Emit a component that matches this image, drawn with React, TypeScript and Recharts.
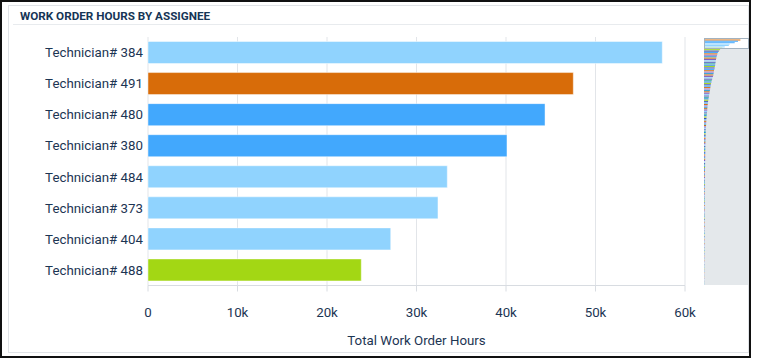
import { BarChart, Bar, XAxis, YAxis, CartesianGrid, Cell, Label } from "recharts";

// top 8 assignees shown in the main chart
const technicians = [
  "Technician# 384",
  "Technician# 491",
  "Technician# 480",
  "Technician# 380",
  "Technician# 484",
  "Technician# 373",
  "Technician# 404",
  "Technician# 488",
];
const hours = [57460, 47520, 44360, 40110, 33440, 32400, 27120, 23830];
const barColors = ["#90d3fe", "#d86c09", "#42a8fd", "#42a8fd", "#90d3fe", "#90d3fe", "#90d3fe", "#a3d714"];
const xTicks = [0, 10000, 20000, 30000, 40000, 50000, 60000];

// the rest of the assignees, only visible in the overview strip
const otherHours = [
  21000, 19300, 18200, 17400, 17000, 16500, 16000, 15700,
  15400, 15100, 14800, 14500, 14200, 13900, 13500, 13100,
  12800, 12500, 12200, 11700, 11200, 10600, 10100, 9700,
  9200, 8900, 8600, 8300, 8000, 7700, 7400, 7100,
  6800, 6500, 6200, 5900, 5600, 5300, 5100, 4900,
  4700, 4500, 4300, 4200, 4100, 3900, 3700, 3500,
  3300, 3200, 3100, 3000, 2900, 2800, 2700, 2600,
  2500, 2400, 2300, 2250, 2200, 2150, 2100, 2050,
  2000, 1950, 1900, 1850, 1800, 1780, 1750, 1720,
  1700, 1680, 1650, 1620, 1600, 1570, 1540, 1500,
  1470, 1440, 1410, 1380, 1350, 1320, 1290, 1260,
  1230, 1200, 1170, 1140, 1110, 1080, 1050, 1020,
  1000, 980, 960, 940, 920, 900, 890, 880,
  870, 860, 850, 840, 830, 820, 810, 800,
  790, 780, 770, 760, 750, 740, 730, 720,
  710, 700, 690, 680, 670, 660, 650, 640,
  630, 620, 610, 600, 590, 580, 570, 560,
  550, 540, 530, 520, 510, 500, 490, 480,
  470, 460, 450, 440, 430, 420, 410, 400,
  390, 380, 370, 360, 350, 340, 330, 320,
  310, 300, 290, 280, 270, 260, 250, 240,
];
const overviewColors = [
  "#a3d714", "#3f51b5", "#42a8fd", "#d86c09", "#9c7bd9", "#2f9fd4",
  "#c9701a", "#7e57c2", "#8fd3fe", "#5c6bc0", "#4db6ac", "#1e88e5",
];

const mainData = technicians.map((name, i) => ({ name, hours: hours[i], color: barColors[i] }));
const overviewData = [
  ...mainData,
  ...otherHours.map((h, i) => ({ name: `other-${i}`, hours: h, color: overviewColors[i % overviewColors.length] })),
];

const NAV_H = 247;
const windowH = (NAV_H * technicians.length) / overviewData.length;

const textColor = "#1c3553";
const lineColor = "#e2e5e9";

export default function App() {
  return (
    <div style={{ position: "relative", width: 757, height: 358, fontFamily: "Roboto", background: "#fff" }}>
      <style>{`body { margin: 0; }`}</style>
      <div style={{ position: "absolute", left: 8, top: 5, width: 741, height: 348, border: "1px solid #e0e3e7", boxSizing: "border-box" }} />
      <div
        style={{
          position: "absolute",
          left: 20,
          top: 9,
          fontSize: 11.7,
          fontWeight: 700,
          color: "#163556",
          lineHeight: "14px",
        }}
      >
        WORK ORDER HOURS BY ASSIGNEE
      </div>
      <div style={{ position: "absolute", left: 13, top: 24, width: 735, height: 1, background: "#e8ebee" }} />

      <div style={{ position: "absolute", left: 0, top: 0 }}>
        <BarChart
          width={757}
          height={358}
          data={mainData}
          layout="vertical"
          margin={{ top: 37, right: 72, bottom: 10, left: 0 }}
          barCategoryGap="14.5%"
        >
          <CartesianGrid horizontal={false} stroke={lineColor} />
          <XAxis
            type="number"
            domain={[0, 60000]}
            ticks={xTicks}
            tickFormatter={(v: number) => (v === 0 ? "0" : `${v / 1000}k`)}
            axisLine={{ stroke: "#d8dce1" }}
            tickLine={{ stroke: "#d8dce1" }}
            tickSize={6}
            tickMargin={16}
            height={62.5}
            tick={{ fill: textColor, fontSize: 13.3 }}
          >
            <Label value="Total Work Order Hours" position="insideBottom" offset={3} fill={textColor} fontSize={13.3} />
          </XAxis>
          <YAxis
            type="category"
            dataKey="name"
            width={148}
            axisLine={false}
            tickLine={false}
            tickSize={0}
            tickMargin={5}
            tick={{ fill: textColor, fontSize: 13.3 }}
          />
          <Bar dataKey="hours" isAnimationActive={false} stroke="rgba(255,255,255,0.45)" strokeWidth={1}>
            {mainData.map((d) => (
              <Cell key={d.name} fill={d.color} />
            ))}
          </Bar>
        </BarChart>
      </div>

      {/* overview strip on the right */}
      <div style={{ position: "absolute", left: 704, top: 38, width: 44, height: NAV_H, background: "#e4e8eb" }}>
        <div style={{ position: "absolute", left: 0, top: 0, width: 45, height: windowH, background: "#fff" }} />
        <div style={{ position: "absolute", left: 0, top: 0 }}>
          <BarChart
            width={44}
            height={NAV_H}
            data={overviewData}
            layout="vertical"
            margin={{ top: 0, right: 0, bottom: 0, left: 0 }}
            barCategoryGap={0}
          >
            <XAxis type="number" hide domain={[0, hours[0]]} />
            <YAxis type="category" dataKey="name" hide />
            <Bar dataKey="hours" isAnimationActive={false}>
              {overviewData.map((d) => (
                <Cell key={d.name} fill={d.color} />
              ))}
            </Bar>
          </BarChart>
        </div>
        <div
          style={{
            position: "absolute",
            left: 0,
            top: 0,
            width: 45,
            height: windowH,
            border: "1px solid #a3b2bf",
            boxSizing: "border-box",
          }}
        />
      </div>

      <div
        style={{
          position: "absolute",
          left: 0,
          top: 0,
          width: 751,
          height: 358,
          border: "2px solid #111",
          boxSizing: "border-box",
          pointerEvents: "none",
        }}
      />
    </div>
  );
}
